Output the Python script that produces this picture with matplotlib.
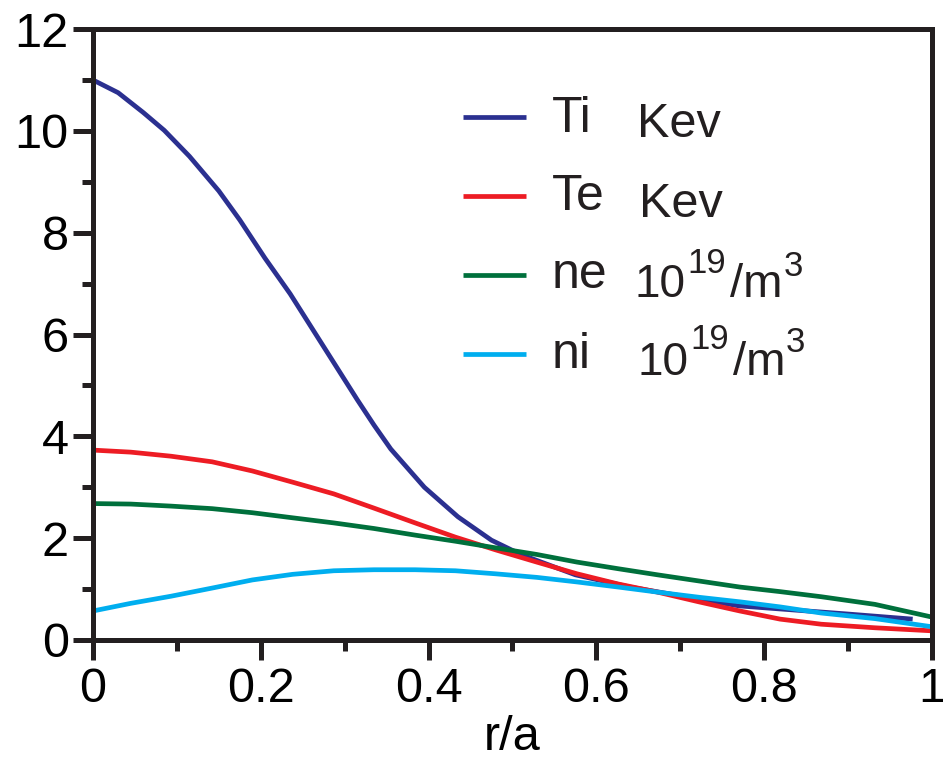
import matplotlib
matplotlib.use("Agg")
import matplotlib.pyplot as plt
from matplotlib.ticker import MultipleLocator, FixedFormatter, FixedLocator

plt.rcParams['font.family'] = ['Liberation Sans', 'DejaVu Sans']

# profiles
r_ti = [0, 0.03, 0.06, 0.085, 0.115, 0.15, 0.175, 0.205, 0.235, 0.275, 0.315,
        0.335, 0.355, 0.395, 0.435, 0.475, 0.51, 0.575, 0.64, 0.77, 0.9, 0.977]
ti = [11.0, 10.75, 10.36, 10.01, 9.5, 8.82, 8.25, 7.5, 6.8, 5.76, 4.72,
      4.22, 3.75, 3.0, 2.42, 1.96, 1.68, 1.28, 1.04, 0.67, 0.51, 0.41]

r = [0, 0.045, 0.093, 0.142, 0.19, 0.238, 0.287, 0.335, 0.384, 0.432, 0.48,
     0.529, 0.577, 0.626, 0.673, 0.722, 0.771, 0.819, 0.868, 0.932, 1.0]
te = [3.73, 3.69, 3.61, 3.50, 3.32, 3.10, 2.87, 2.59, 2.30, 2.02, 1.77,
      1.53, 1.30, 1.10, 0.94, 0.75, 0.57, 0.41, 0.31, 0.24, 0.18]
ne = [2.68, 2.67, 2.63, 2.58, 2.50, 2.40, 2.30, 2.19, 2.06, 1.94, 1.81,
      1.68, 1.53, 1.40, 1.28, 1.16, 1.04, 0.95, 0.85, 0.70, 0.45]
ni = [0.57, 0.72, 0.86, 1.02, 1.18, 1.29, 1.36, 1.38, 1.38, 1.36, 1.30,
      1.23, 1.14, 1.04, 0.94, 0.84, 0.75, 0.65, 0.53, 0.42, 0.26]

names = ['Ti', 'Te', 'ne', 'ni']
colors = ['#2b3090', '#ed1c24', '#00703c', '#00aeef']

xticks = [0, 0.2, 0.4, 0.6, 0.8, 1.0]
xticklabels = ['0', '0.2', '0.4', '0.6', '0.8', '1']
yticks = [0, 2, 4, 6, 8, 10, 12]

fig = plt.figure(figsize=(9.43, 7.65), dpi=100)
ax = fig.add_axes([0.0986, 0.1634, 0.8897, 0.7986])

lw = 3.4
ax.plot(r_ti, ti, color=colors[0], lw=lw, solid_capstyle='butt', solid_joinstyle='round')
ax.plot(r, te, color=colors[1], lw=lw, solid_capstyle='butt', solid_joinstyle='round')
ax.plot(r, ne, color=colors[2], lw=lw, solid_capstyle='butt', solid_joinstyle='round')
ax.plot(r, ni, color=colors[3], lw=lw, solid_capstyle='butt', solid_joinstyle='round')

ax.set_xlim(0, 1)
ax.set_ylim(0, 12)
ax.xaxis.set_major_locator(FixedLocator(xticks))
ax.xaxis.set_major_formatter(FixedFormatter(xticklabels))
ax.xaxis.set_minor_locator(MultipleLocator(0.1))
ax.set_yticks(yticks)
ax.yaxis.set_minor_locator(MultipleLocator(1))

for s in ax.spines.values():
    s.set_linewidth(3.6)
    s.set_color('#231f20')
ax.tick_params(which='both', direction='out', width=3.6, color='#231f20',
               top=False, right=False)
ax.tick_params(which='major', length=14.5, labelsize=35)
ax.tick_params(which='minor', length=8)
ax.tick_params(axis='x', which='major', pad=5)
ax.tick_params(axis='y', which='major', pad=3)
ax.set_xlabel('r/a', fontsize=35, labelpad=2)

# hand-made legend, placed in pixel terms of the plot box
def fx(px):
    return (px - 93) / 839.0

def fy(py):
    return (640 - py) / 611.0

txt = dict(transform=ax.transAxes, va='baseline', ha='left', color='#231f20')

line_y = [117, 196, 275, 354]
for c, yy in zip(colors, line_y):
    ax.plot([fx(463), fx(526)], [fy(yy), fy(yy)], color=c, lw=lw,
            transform=ax.transAxes, solid_capstyle='butt')

name_base = [132, 210, 288, 368]
for name, yy in zip(names, name_base):
    ax.text(fx(552), fy(yy), name, fontsize=36, **txt)

ax.text(fx(637), fy(137), 'Kev', fontsize=35, **txt)
ax.text(fx(639), fy(217), 'Kev', fontsize=35, **txt)

unit_rows = [(635, 297, 687, 273, 730, 784), (638, 375, 690, 349, 733, 786)]
for x10, b10, x19, b19, xm, x3 in unit_rows:
    ax.text(fx(x10), fy(b10), '10', fontsize=33, **txt)
    ax.text(fx(x19), fy(b19), '19', fontsize=25, **txt)
    ax.text(fx(xm), fy(b10), '/m', fontsize=34, **txt)
    ax.text(fx(x3), fy(b19 + 3), '3', fontsize=25, **txt)

fig.savefig('out.png', dpi=100)
